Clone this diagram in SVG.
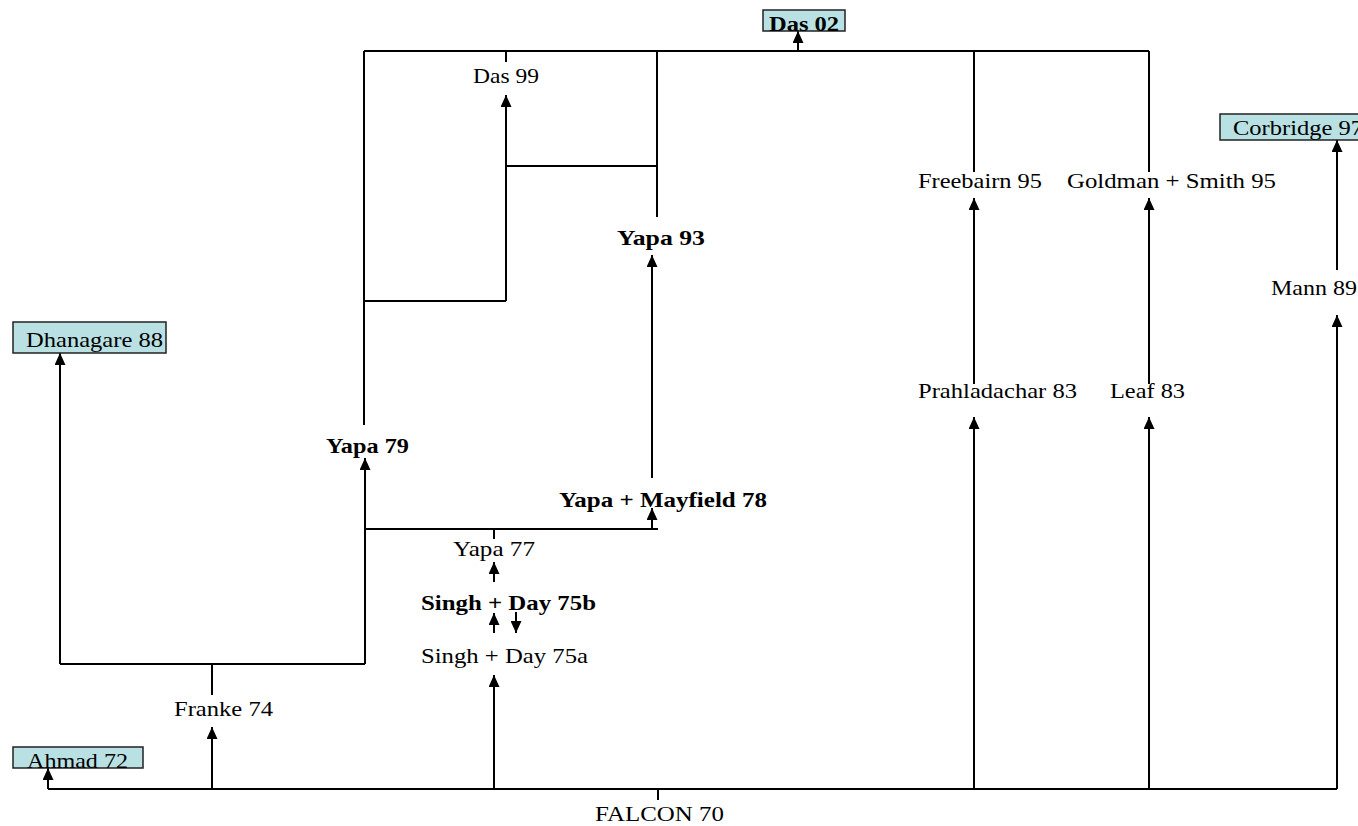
<svg xmlns="http://www.w3.org/2000/svg" width="1358" height="826" viewBox="0 0 1358 826">
<style>
.t{font-family:'Liberation Serif',Tinos,'Times New Roman',Times,serif;font-size:21px;fill:#000;text-anchor:start}
.b{font-weight:bold}
.box{fill:#b9e0e3;stroke:#222;stroke-width:1.5}
.c path{fill:none;stroke:#000;stroke-width:2}
.c path.a{marker-end:url(#ah)}
</style>
<defs>
<marker id="ah" markerUnits="userSpaceOnUse" markerWidth="12" markerHeight="11" viewBox="0 0 12 11" refX="12" refY="5.5" orient="auto">
<path d="M0,0 L12,5.5 L0,11 z" fill="#000"/>
</marker>
</defs>
<rect width="1358" height="826" fill="#fff"/>
<g class="c" id="connectors">
<path d="M364,51 H1149"/>
<path class="a" d="M798,51 V31"/>
<path d="M364,51 V425"/>
<path d="M364,301 H506"/>
<path class="a" d="M506,301 V95"/>
<path d="M506,51 V62"/>
<path d="M657,51 V217"/>
<path d="M506,166 H657"/>
<path class="a" d="M652,478 V255"/>
<path d="M365,529 H658"/>
<path class="a" d="M652,529 V508"/>
<path d="M494,529 V539"/>
<path class="a" d="M494,582 V562"/>
<path class="a" d="M494,633 V613"/>
<path class="a" d="M516,612 V633"/>
<path class="a" d="M494,789 V675"/>
<path class="a" d="M365,664 V458"/>
<path d="M60,664 H365"/>
<path d="M212,664 V695"/>
<path class="a" d="M60,664 V353"/>
<path class="a" d="M212,789 V727"/>
<path d="M48,789 H1337"/>
<path class="a" d="M48,789 V768"/>
<path d="M658,789 V800"/>
<path class="a" d="M974,789 V417"/>
<path class="a" d="M974,384 V198"/>
<path d="M974,51 V172"/>
<path class="a" d="M1149,789 V417"/>
<path class="a" d="M1149,384 V198"/>
<path d="M1149,51 V172"/>
<path class="a" d="M1337,789 V315"/>
<path class="a" d="M1337,270 V140"/>
</g>
<g id="das02"><rect class="box" x="763" y="10" width="82" height="21"/><text class="t b" x="769" y="31" font-size="22" textLength="70" lengthAdjust="spacingAndGlyphs">Das 02</text></g>
<g id="corbridge97"><rect class="box" x="1220" y="114" width="150" height="26"/><text class="t" x="1233" y="135" textLength="130" lengthAdjust="spacingAndGlyphs">Corbridge 97</text></g>
<g id="dhanagare88"><rect class="box" x="13" y="322" width="153" height="31"/><text class="t" x="26" y="347" textLength="137" lengthAdjust="spacingAndGlyphs">Dhanagare 88</text></g>
<g id="ahmad72"><rect class="box" x="13" y="747" width="130" height="21"/><text class="t" x="27" y="768" textLength="101" lengthAdjust="spacingAndGlyphs">Ahmad 72</text></g>
<g id="das99"><text class="t" x="473" y="83" textLength="66" lengthAdjust="spacingAndGlyphs">Das 99</text></g>
<g id="yapa93"><text class="t b" x="617" y="245" textLength="88" lengthAdjust="spacingAndGlyphs">Yapa 93</text></g>
<g id="yapa79"><text class="t b" x="326" y="453" textLength="83" lengthAdjust="spacingAndGlyphs">Yapa 79</text></g>
<g id="yapamayfield78"><text class="t b" x="559" y="507" textLength="208" lengthAdjust="spacingAndGlyphs">Yapa + Mayfield 78</text></g>
<g id="yapa77"><text class="t" x="453" y="556" textLength="82" lengthAdjust="spacingAndGlyphs">Yapa 77</text></g>
<g id="singhday75b"><text class="t b" x="421" y="610" textLength="175" lengthAdjust="spacingAndGlyphs">Singh + Day 75b</text></g>
<g id="singhday75a"><text class="t" x="421" y="663" textLength="167" lengthAdjust="spacingAndGlyphs">Singh + Day 75a</text></g>
<g id="franke74"><text class="t" x="174" y="716" textLength="99" lengthAdjust="spacingAndGlyphs">Franke 74</text></g>
<g id="falcon70"><text class="t" x="595" y="821" textLength="129" lengthAdjust="spacingAndGlyphs">FALCON 70</text></g>
<g id="freebairn95"><text class="t" x="918" y="188" textLength="124" lengthAdjust="spacingAndGlyphs">Freebairn 95</text></g>
<g id="goldmansmith95"><text class="t" x="1067" y="188" textLength="209" lengthAdjust="spacingAndGlyphs">Goldman + Smith 95</text></g>
<g id="prahladachar83"><text class="t" x="918" y="398" textLength="159" lengthAdjust="spacingAndGlyphs">Prahladachar 83</text></g>
<g id="leaf83"><text class="t" x="1110" y="398" textLength="75" lengthAdjust="spacingAndGlyphs">Leaf 83</text></g>
<g id="mann89"><text class="t" x="1271" y="295" textLength="86" lengthAdjust="spacingAndGlyphs">Mann 89</text></g>
</svg>
